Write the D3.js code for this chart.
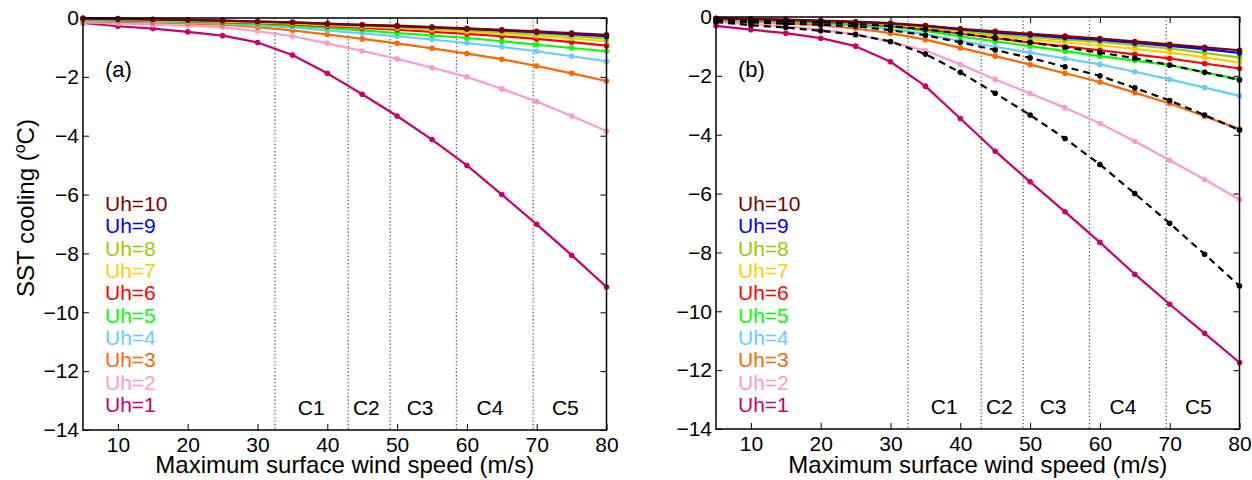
<!DOCTYPE html>
<html><head><meta charset="utf-8">
<script src="https://cdn.jsdelivr.net/npm/d3@7"></script>
<style>
html,body{margin:0;padding:0;background:#fff;}
svg text{font-family:"Liberation Sans",Arial,Helvetica,sans-serif;}
</style></head>
<body><svg id="c" width="1252" height="480"></svg>
<script>
// ---- data ----
const windSpeeds = [5,10,15,20,25,30,35,40,45,50,55,60,65,70,75,80];
const seriesNames = ["Uh=1","Uh=2","Uh=3","Uh=4","Uh=5","Uh=6","Uh=7","Uh=8","Uh=9","Uh=10"];
const seriesColors = ["#cc0066","#ff99cc","#ff6600","#66ccff","#00ff00","#ff0000","#ffcc00","#99cc00","#0000ff","#800000"];

// panel (a)
const aUh1  = [-0.17,-0.28,-0.36,-0.47,-0.60,-0.83,-1.26,-1.88,-2.59,-3.33,-4.13,-5.01,-6.00,-7.01,-8.06,-9.14];
const aUh2  = [-0.15,-0.18,-0.23,-0.26,-0.31,-0.45,-0.62,-0.86,-1.12,-1.39,-1.69,-2.00,-2.41,-2.84,-3.33,-3.84];
const aUh3  = [-0.10,-0.12,-0.15,-0.18,-0.23,-0.31,-0.42,-0.56,-0.71,-0.86,-1.03,-1.21,-1.40,-1.63,-1.88,-2.14];
const aUh4  = [-0.08,-0.10,-0.12,-0.15,-0.19,-0.25,-0.32,-0.42,-0.52,-0.62,-0.73,-0.85,-0.98,-1.13,-1.30,-1.47];
const aUh5  = [-0.07,-0.08,-0.10,-0.13,-0.16,-0.20,-0.26,-0.34,-0.42,-0.51,-0.59,-0.68,-0.79,-0.91,-1.02,-1.13];
const aUh6  = [-0.06,-0.07,-0.09,-0.11,-0.14,-0.17,-0.22,-0.28,-0.34,-0.40,-0.47,-0.54,-0.62,-0.71,-0.82,-0.94];
const aUh7  = [-0.05,-0.06,-0.08,-0.10,-0.12,-0.15,-0.19,-0.24,-0.29,-0.34,-0.40,-0.46,-0.52,-0.60,-0.69,-0.79];
const aUh8  = [-0.04,-0.05,-0.07,-0.09,-0.11,-0.14,-0.17,-0.22,-0.26,-0.31,-0.36,-0.41,-0.47,-0.53,-0.61,-0.70];
const aUh9  = [-0.02,-0.04,-0.05,-0.07,-0.09,-0.12,-0.15,-0.20,-0.24,-0.28,-0.32,-0.37,-0.42,-0.48,-0.55,-0.62];
const aUh10 = [0.00,-0.02,-0.04,-0.06,-0.09,-0.12,-0.15,-0.19,-0.23,-0.26,-0.31,-0.35,-0.40,-0.45,-0.51,-0.57];

// panel (b)
const bUh1  = [-0.30,-0.43,-0.55,-0.72,-0.99,-1.52,-2.35,-3.45,-4.56,-5.60,-6.62,-7.66,-8.74,-9.76,-10.75,-11.74];
const bUh2  = [-0.17,-0.24,-0.32,-0.43,-0.58,-0.85,-1.14,-1.61,-2.12,-2.60,-3.08,-3.62,-4.22,-4.87,-5.52,-6.20];
const bUh3  = [-0.12,-0.16,-0.21,-0.28,-0.39,-0.55,-0.77,-1.05,-1.33,-1.62,-1.91,-2.21,-2.57,-2.94,-3.37,-3.81];
const bUh4  = [-0.10,-0.13,-0.17,-0.22,-0.30,-0.41,-0.58,-0.81,-1.01,-1.21,-1.41,-1.61,-1.86,-2.12,-2.40,-2.68];
const bUh5  = [-0.09,-0.11,-0.14,-0.19,-0.25,-0.33,-0.47,-0.66,-0.83,-0.99,-1.16,-1.33,-1.48,-1.64,-1.88,-2.12];
const bUh6  = [-0.08,-0.10,-0.13,-0.17,-0.22,-0.29,-0.41,-0.56,-0.72,-0.87,-1.00,-1.13,-1.27,-1.41,-1.58,-1.75];
const bUh7  = [-0.07,-0.09,-0.12,-0.15,-0.20,-0.26,-0.36,-0.50,-0.64,-0.76,-0.86,-0.96,-1.08,-1.21,-1.37,-1.55];
const bUh8  = [-0.06,-0.08,-0.11,-0.14,-0.18,-0.24,-0.33,-0.46,-0.58,-0.68,-0.77,-0.85,-0.96,-1.07,-1.22,-1.38];
const bUh9  = [-0.05,-0.07,-0.10,-0.13,-0.17,-0.22,-0.30,-0.42,-0.52,-0.61,-0.70,-0.78,-0.88,-0.98,-1.09,-1.22];
const bUh10 = [-0.04,-0.06,-0.09,-0.12,-0.16,-0.21,-0.29,-0.40,-0.49,-0.57,-0.65,-0.73,-0.83,-0.93,-1.03,-1.13];

// reference (dashed) curves in panel (b): panel (a) Uh=1..3
const dashedRefs = [aUh1, aUh2, aUh3];

const xTicks = [10,20,30,40,50,60,70,80];
const yTicks = [0,-2,-4,-6,-8,-10,-12,-14];
const categoryBounds = [32.5, 43, 49, 58.5, 69.5];
const categoryLabels = ["C1","C2","C3","C4","C5"];
const categoryLabelX = [37.7, 45.6, 53.3, 63.3, 74.1];

// ---- drawing ----
const svg = d3.select("#c");
const FS = 21;

function drawPanel(cfg){
  const x = d3.scaleLinear().domain([5,80]).range([cfg.left, cfg.right]);
  const y = d3.scaleLinear().domain([-14,0]).range([cfg.bottom, cfg.top]);
  const g = svg.append("g");

  // category dotted lines
  g.selectAll(".cat").data(categoryBounds).join("line")
    .attr("x1", d=>x(d)).attr("x2", d=>x(d))
    .attr("y1", cfg.top).attr("y2", cfg.bottom)
    .attr("stroke","#555").attr("stroke-width",1.3)
    .attr("stroke-dasharray","1.3,2.2");

  g.selectAll(".catl").data(categoryLabels).join("text")
    .attr("x",(d,i)=>x(categoryLabelX[i])).attr("y", cfg.bottom-15)
    .attr("text-anchor","middle").attr("font-size",FS).attr("fill","#000")
    .text(d=>d);

  // axes with inward ticks, on all four sides
  const tl = 6;
  const axB = d3.axisBottom(x).tickValues(xTicks).tickSize(-tl).tickPadding(7).tickFormat(d3.format("d"));
  const axT = d3.axisTop(x).tickValues(xTicks).tickSize(-tl).tickFormat("");
  const fmtY = d=> d===0 ? "0" : "\u2212"+Math.abs(d);
  const axL = d3.axisLeft(y).tickValues(yTicks).tickSize(-tl).tickPadding(4).tickFormat(fmtY);
  const axR = d3.axisRight(y).tickValues(yTicks).tickSize(-tl).tickFormat("");
  const style = s => { s.select(".domain").remove(); s.selectAll("line").attr("stroke","#000").attr("stroke-width",1); s.selectAll("text").attr("font-size",FS).attr("fill","#000").attr("font-family","Liberation Sans, Arial, sans-serif"); };
  g.append("g").attr("transform",`translate(0,${cfg.bottom})`).call(axB).call(style);
  g.append("g").attr("transform",`translate(0,${cfg.top})`).call(axT).call(style);
  g.append("g").attr("transform",`translate(${cfg.left},0)`).call(axL).call(style);
  g.append("g").attr("transform",`translate(${cfg.right},0)`).call(axR).call(style);

  const line = d3.line().x((d,i)=>x(windSpeeds[i])).y(d=>y(d));

  cfg.series.forEach((vals,k)=>{
    const col = seriesColors[k];
    g.append("path").datum(vals).attr("d",line).attr("fill","none")
      .attr("stroke",col).attr("stroke-width",2.2).attr("stroke-linejoin","round");
    g.append("g").selectAll("circle").data(vals).join("circle")
      .attr("cx",(d,i)=>x(windSpeeds[i])).attr("cy",d=>y(d)).attr("r",2.8).attr("fill",col);
  });

  if(cfg.dashed){
    cfg.dashed.forEach(vals=>{
      g.append("path").datum(vals).attr("d",line).attr("fill","none")
        .attr("stroke","#000").attr("stroke-width",2.2).attr("stroke-dasharray","7,5");
      g.append("g").selectAll("circle").data(vals).join("circle")
        .attr("cx",(d,i)=>x(windSpeeds[i])).attr("cy",d=>y(d)).attr("r",2.8).attr("fill","#000");
    });
  }

  // box
  g.append("rect").attr("x",cfg.left).attr("y",cfg.top)
    .attr("width",cfg.right-cfg.left).attr("height",cfg.bottom-cfg.top)
    .attr("fill","none").attr("stroke","#000").attr("stroke-width",1.5);

  // panel label
  g.append("text").attr("x",cfg.left+22).attr("y",77).attr("font-size",22).text(cfg.label);

  // legend
  const legend = seriesNames.slice().reverse();
  const legendCols = seriesColors.slice().reverse();
  g.selectAll(".leg").data(legend).join("text")
    .attr("x",cfg.left+22).attr("y",(d,i)=>211+i*22.33)
    .attr("font-size",FS).attr("fill",(d,i)=>legendCols[i]).text(d=>d);

  // x axis title
  g.append("text").attr("x",(cfg.left+cfg.right)/2).attr("y",473)
    .attr("text-anchor","middle").attr("font-size",24).text("Maximum surface wind speed (m/s)");
}

drawPanel({left:83, right:606.5, top:18, bottom:430, label:"(a)",
  series:[aUh1,aUh2,aUh3,aUh4,aUh5,aUh6,aUh7,aUh8,aUh9,aUh10]});
drawPanel({left:716, right:1239.5, top:17, bottom:429, label:"(b)",
  series:[bUh1,bUh2,bUh3,bUh4,bUh5,bUh6,bUh7,bUh8,bUh9,bUh10], dashed:dashedRefs});

// y axis title
const yt = svg.append("text").attr("transform","translate(34,208) rotate(-90)")
  .attr("text-anchor","middle").attr("font-size",24);
yt.append("tspan").text("SST cooling (");
yt.append("tspan").attr("font-size",16).attr("dy",-9).text("o");
yt.append("tspan").attr("dy",9).text("C)");
</script></body></html>
